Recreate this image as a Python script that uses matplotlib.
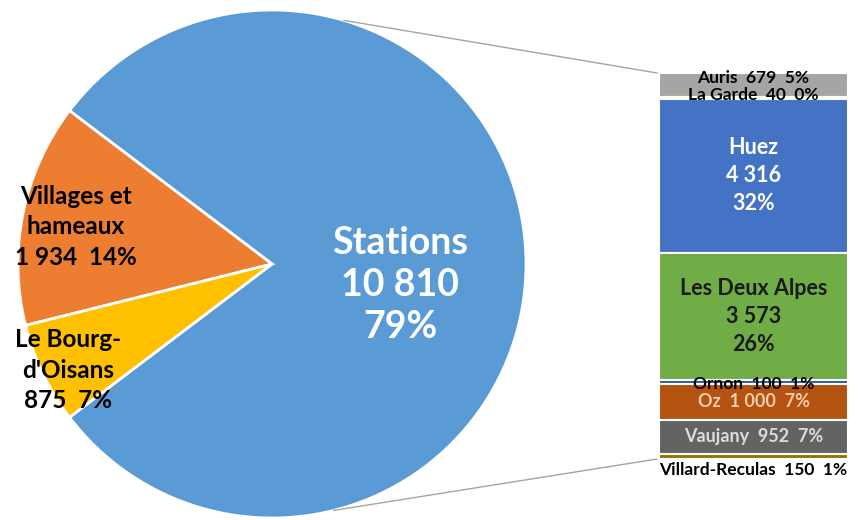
import numpy as np
import matplotlib.pyplot as plt
from matplotlib.patches import ConnectionPatch

# Main pie
pie_labels = ["Stations", "Villages et\nhameaux", "Le Bourg-\nd'Oisans"]
pie_values = [10810, 1934, 875]
pie_pcts = [79, 14, 7]
pie_colors = ["#5b9bd5", "#ed7d31", "#ffc000"]

# Detail of "Stations" (top to bottom)
bar_labels = ["Auris", "La Garde", "Huez", "Les Deux Alpes", "Ornon", "Oz", "Vaujany", "Villard-Reculas"]
bar_values = [679, 40, 4316, 3573, 100, 1000, 952, 150]
bar_pcts = [5, 0, 32, 26, 1, 7, 7, 1]
bar_colors = ["#a5a5a5", "#ffc000", "#4472c4", "#70ad47", "#255e91", "#b4530f", "#636363", "#997300"]


def fmt(v):
    return f"{v:,}".replace(",", " ")


font = "Lato"
fig = plt.figure(figsize=(8.61, 5.2), dpi=100)
fig.patch.set_facecolor("white")

# pie axes in pixel-like coordinates
ax = fig.add_axes([0, 0, 1, 1])
cx, cy, r = 272, 256, 254
frac_main = pie_values[0] / sum(pie_values)
start = 180 + 0.5 * (1 - frac_main) * 360
ax.pie(pie_values, colors=pie_colors, startangle=start, center=(cx, cy), radius=r,
       wedgeprops=dict(edgecolor="white", linewidth=2))
ax.set_xlim(0, 861)
ax.set_ylim(0, 520)
ax.set_aspect("equal")
ax.axis("off")

# pie labels
ax.text(400, 235, f"{pie_labels[0]}\n{fmt(pie_values[0])}\n{pie_pcts[0]}%", color="white",
        family=font, weight="bold", size=27, ha="center", va="center", linespacing=1.29)
ax.text(76, 293, f"{pie_labels[1]}\n{fmt(pie_values[1])}  {pie_pcts[1]}%", color="black",
        family=font, weight="bold", size=17.5, ha="center", va="center", linespacing=1.38)
ax.text(68, 150, f"{pie_labels[2]}\n{fmt(pie_values[2])}  {pie_pcts[2]}%", color="black",
        family=font, weight="bold", size=17.5, ha="center", va="center", linespacing=1.38)

# stacked bar
axb = fig.add_axes([659 / 861, 61 / 520, 189 / 861, 386 / 520])
total = sum(bar_values)
bottoms = total - np.cumsum(bar_values)
axb.bar([0] * len(bar_values), bar_values, bottom=bottoms, width=1, color=bar_colors,
        edgecolor="white", linewidth=1.5)
axb.set_xlim(-0.5, 0.5)
axb.set_ylim(0, total)
axb.axis("off")

# bar labels: (text colour, size, vertical offset in points, multiline)
styles = [
    ("black", 12.5, 5, False),
    ("black", 12.5, 2, False),
    ("white", 15.5, 0, True),
    ("#1a1a1a", 15.5, 0, True),
    ("black", 12.5, -1, False),
    ("#f8cbad", 13, 0, False),
    ("#dcdcdc", 13, 0, False),
    ("black", 12.5, -9.5, False),
]
for lab, v, p, b, (col, sz, dy, multi) in zip(bar_labels, bar_values, bar_pcts, bottoms, styles):
    if multi:
        txt = f"{lab}\n{fmt(v)}\n{p}%"
    else:
        txt = f"{lab}  {fmt(v)}  {p}%"
    axb.annotate(txt, (0, b + v / 2), xytext=(0, dy), textcoords="offset points",
                 ha="center", va="center", color=col, family=font, weight="bold",
                 size=sz, linespacing=1.42, annotation_clip=False)

# connector lines
for ang, yb in [(73.6, 1), (-76, 0)]:
    a = np.deg2rad(ang)
    con = ConnectionPatch(xyA=(cx + r * np.cos(a), cy + r * np.sin(a)), coordsA=ax.transData,
                          xyB=(-0.01, yb), coordsB=axb.transAxes, color="#a5a5a5", lw=1)
    fig.add_artist(con)

plt.savefig("out.png", dpi=100)
